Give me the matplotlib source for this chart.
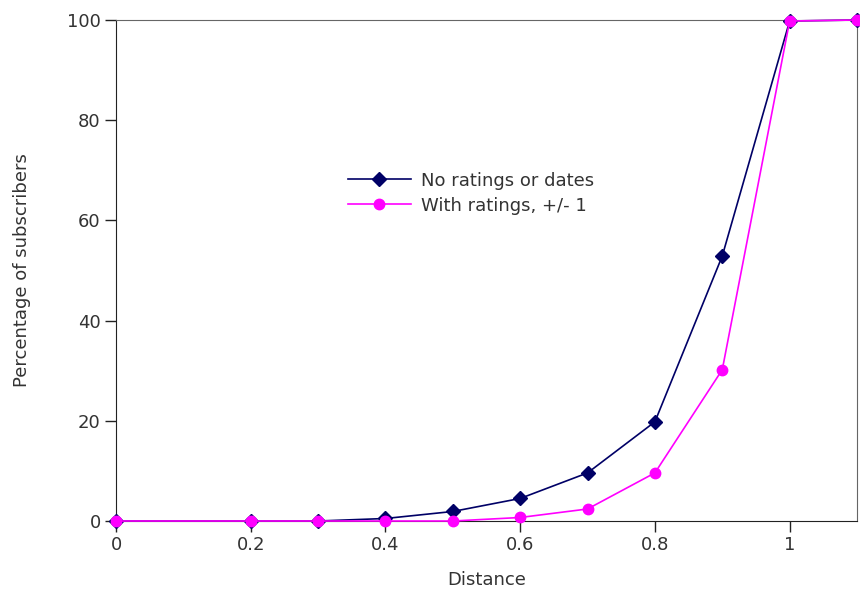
import matplotlib
matplotlib.use("Agg")
import matplotlib.pyplot as plt

distance = [0, 0.2, 0.3, 0.4, 0.5, 0.6, 0.7, 0.8, 0.9, 1.0, 1.1]
no_ratings = [0, 0, 0, 0.5, 1.9, 4.5, 9.6, 19.8, 52.9, 99.8, 100]
with_ratings = [0, 0, 0, 0, 0, 0.7, 2.4, 9.6, 30.2, 99.8, 100]
labels = ["No ratings or dates", "With ratings, +/- 1"]
xticks = [0, 0.2, 0.4, 0.6, 0.8, 1]
yticks = [0, 20, 40, 60, 80, 100]

fig = plt.figure(figsize=(8.6, 5.92), dpi=100)
ax = fig.add_axes([116/860, 1-521/592, (857-116)/860, (521-20)/592])

ax.plot(distance, no_ratings, color="#000066", marker="D", markersize=7.5,
        linewidth=1.2, label=labels[0], zorder=3)
ax.plot(distance, with_ratings, color="#ff00ff", marker="o", markersize=7.5,
        linewidth=1.2, label=labels[1], zorder=4)

ax.set_xlim(0, 1.1)
ax.set_ylim(0, 100)
ax.set_xticks(xticks)
ax.set_xticklabels(["0", "0.2", "0.4", "0.6", "0.8", "1"])
ax.set_yticks(yticks)
ax.tick_params(labelsize=13, length=8, width=1, pad=3, colors="#222222", labelcolor="#333333")
ax.set_xlabel("Distance", fontsize=13, color="#333333", labelpad=12)
ax.set_ylabel("Percentage of subscribers", fontsize=13, color="#333333", labelpad=26)
for s in ["left", "bottom"]:
    ax.spines[s].set_color("#222222")
for s in ["top", "right"]:
    ax.spines[s].set_color("#666666")
    ax.spines[s].set_linewidth(0.8)

leg = ax.legend(loc="upper left", bbox_to_anchor=(0.291, 0.73), frameon=False,
                fontsize=13, handlelength=3.5, handletextpad=0.55, labelspacing=0.4,
                labelcolor="#333333")
for m in ax.lines:
    m.set_clip_on(False)

fig.savefig("out.png", dpi=100)
